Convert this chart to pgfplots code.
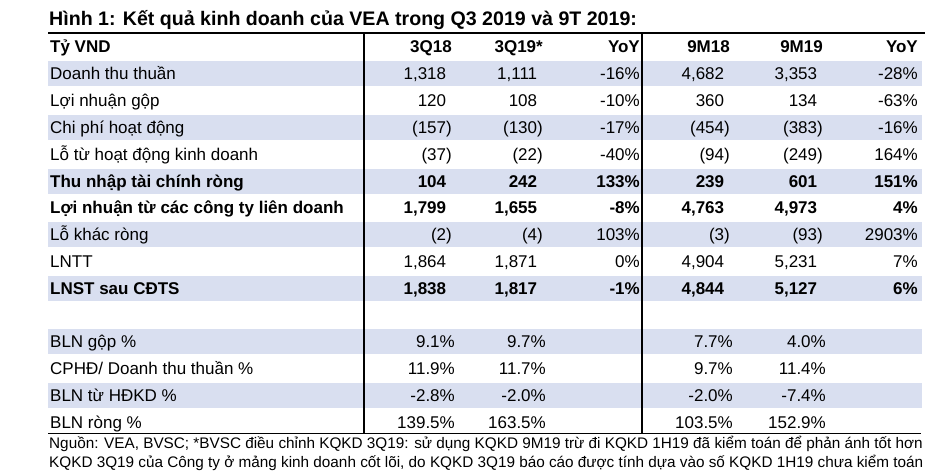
\documentclass[border=0pt]{standalone}
\usepackage{pgfplots}
\pgfplotsset{compat=1.18}
\usepackage{fontspec}
\setmainfont{Liberation Sans}
\definecolor{band}{RGB}{217,223,240}
\newcommand{\pp}{\phantom{)}}
\newcommand{\B}[1]{\textbf{#1}}
\newcommand{\fs}{\fontsize{17bp}{20bp}\selectfont}
\pgfplotsset{
  cell/.style={draw=none, mark=none, nodes near coords, point meta=explicit symbolic,
    nodes near coords style={anchor=base east, inner sep=0pt, font=\fs, text=black}},
  lab/.style={cell, nodes near coords style={anchor=base west}},
}
\begin{document}
\begin{tikzpicture}
\begin{axis}[
  width=935bp, height=476bp, scale only axis,
  xmin=0, xmax=935, ymin=0, ymax=476, y dir=reverse,
  hide axis, clip=false,
]
\path (axis cs:0,0) rectangle (axis cs:935,476);
% shaded bands
\fill[band] (axis cs:48,61.3) rectangle (axis cs:922,86.3);
\fill[band] (axis cs:48,114.9) rectangle (axis cs:922,139.9);
\fill[band] (axis cs:48,168.5) rectangle (axis cs:922,193.5);
\fill[band] (axis cs:48,222.1) rectangle (axis cs:922,247.1);
\fill[band] (axis cs:48,275.7) rectangle (axis cs:922,300.7);
\fill[band] (axis cs:48,329.3) rectangle (axis cs:922,354.3);
\fill[band] (axis cs:48,382.9) rectangle (axis cs:922,407.9);
% rules
\draw[line width=1.2bp] (axis cs:48,33) -- (axis cs:925,33);
\draw[line width=1.2bp] (axis cs:48,433.5) -- (axis cs:921,433.5);
\draw[line width=1.5bp] (axis cs:364,33) -- (axis cs:364,433.5);
\draw[line width=1.5bp] (axis cs:642,33) -- (axis cs:642,433.5);
% title
\node[anchor=base west, inner sep=0pt, font=\fontsize{19.6bp}{22bp}\selectfont\bfseries] at (axis cs:49,26) {Hình 1: Kết quả kinh doanh của VEA trong Q3 2019 và 9T 2019:};
% labels
\addplot[lab] coordinates {
 (50,53)[\B{Tỷ VND}]
 (50,79.8)[Doanh thu thuần]
 (50,106.6)[Lợi nhuận gộp]
 (50,133.4)[Chi phí hoạt động]
 (50,160.2)[Lỗ từ hoạt động kinh doanh]
 (50,187)[\B{Thu nhập tài chính ròng}]
 (50,213.8)[\B{Lợi nhuận từ các công ty liên doanh}]
 (50,240.6)[Lỗ khác ròng]
 (50,267.4)[LNTT]
 (50,294.2)[\B{LNST sau CĐTS}]
 (50,347.8)[BLN gộp \%]
 (50,374.6)[CPHĐ/ Doanh thu thuần \%]
 (50,401.4)[BLN từ HĐKD \%]
 (50,428.2)[BLN ròng \%]
};
% 3Q18
\addplot[cell] coordinates {
 (452,53)[\B{3Q18}]
 (452,79.8)[1,318\pp]
 (452,106.6)[120\pp]
 (452,133.4)[(157)]
 (452,160.2)[(37)]
 (452,187)[\B{104}\pp]
 (452,213.8)[\B{1,799}\pp]
 (452,240.6)[(2)]
 (452,267.4)[1,864\pp]
 (452,294.2)[\B{1,838}\pp]
 (455,347.8)[9.1\%]
 (455,374.6)[11.9\%]
 (455,401.4)[-2.8\%]
 (455,428.2)[139.5\%]
};
% 3Q19*
\addplot[cell] coordinates {
 (543,53)[\B{3Q19*}]
 (543,79.8)[1,111\pp]
 (543,106.6)[108\pp]
 (543,133.4)[(130)]
 (543,160.2)[(22)]
 (543,187)[\B{242}\pp]
 (543,213.8)[\B{1,655}\pp]
 (543,240.6)[(4)]
 (543,267.4)[1,871\pp]
 (543,294.2)[\B{1,817}\pp]
 (546,347.8)[9.7\%]
 (546,374.6)[11.7\%]
 (546,401.4)[-2.0\%]
 (546,428.2)[163.5\%]
};
% YoY quarter
\addplot[cell] coordinates {
 (640,53)[\B{YoY}]
 (640,79.8)[-16\%]
 (640,106.6)[-10\%]
 (640,133.4)[-17\%]
 (640,160.2)[-40\%]
 (640,187)[\B{133\%}]
 (640,213.8)[\B{-8\%}]
 (640,240.6)[103\%]
 (640,267.4)[0\%]
 (640,294.2)[\B{-1\%}]
};
% 9M18
\addplot[cell] coordinates {
 (730,53)[\B{9M18}]
 (730,79.8)[4,682\pp]
 (730,106.6)[360\pp]
 (730,133.4)[(454)]
 (730,160.2)[(94)]
 (730,187)[\B{239}\pp]
 (730,213.8)[\B{4,763}\pp]
 (730,240.6)[(3)]
 (730,267.4)[4,904\pp]
 (730,294.2)[\B{4,844}\pp]
 (733,347.8)[7.7\%]
 (733,374.6)[9.7\%]
 (733,401.4)[-2.0\%]
 (733,428.2)[103.5\%]
};
% 9M19
\addplot[cell] coordinates {
 (823,53)[\B{9M19}]
 (823,79.8)[3,353\pp]
 (823,106.6)[134\pp]
 (823,133.4)[(383)]
 (823,160.2)[(249)]
 (823,187)[\B{601}\pp]
 (823,213.8)[\B{4,973}\pp]
 (823,240.6)[(93)]
 (823,267.4)[5,231\pp]
 (823,294.2)[\B{5,127}\pp]
 (826,347.8)[4.0\%]
 (826,374.6)[11.4\%]
 (826,401.4)[-7.4\%]
 (826,428.2)[152.9\%]
};
% YoY 9M
\addplot[cell] coordinates {
 (918,53)[\B{YoY}]
 (918,79.8)[-28\%]
 (918,106.6)[-63\%]
 (918,133.4)[-16\%]
 (918,160.2)[164\%]
 (918,187)[\B{151\%}]
 (918,213.8)[\B{4\%}]
 (918,240.6)[2903\%]
 (918,267.4)[7\%]
 (918,294.2)[\B{6\%}]
};
% footnote
\node[anchor=base west, inner sep=0pt, font=\fontsize{15.3bp}{18bp}\selectfont] at (axis cs:49,448) {Nguồn: VEA, BVSC; *BVSC điều chỉnh KQKD 3Q19: sử dụng KQKD 9M19 trừ đi KQKD 1H19 đã kiểm toán để phản ánh tốt hơn};
\node[anchor=base west, inner sep=0pt, font=\fontsize{15.3bp}{18bp}\selectfont] at (axis cs:49,467) {KQKD 3Q19 của Công ty ở mảng kinh doanh cốt lõi, do KQKD 3Q19 báo cáo được tính dựa vào số KQKD 1H19 chưa kiểm toán};
\end{axis}
\end{tikzpicture}
\end{document}
